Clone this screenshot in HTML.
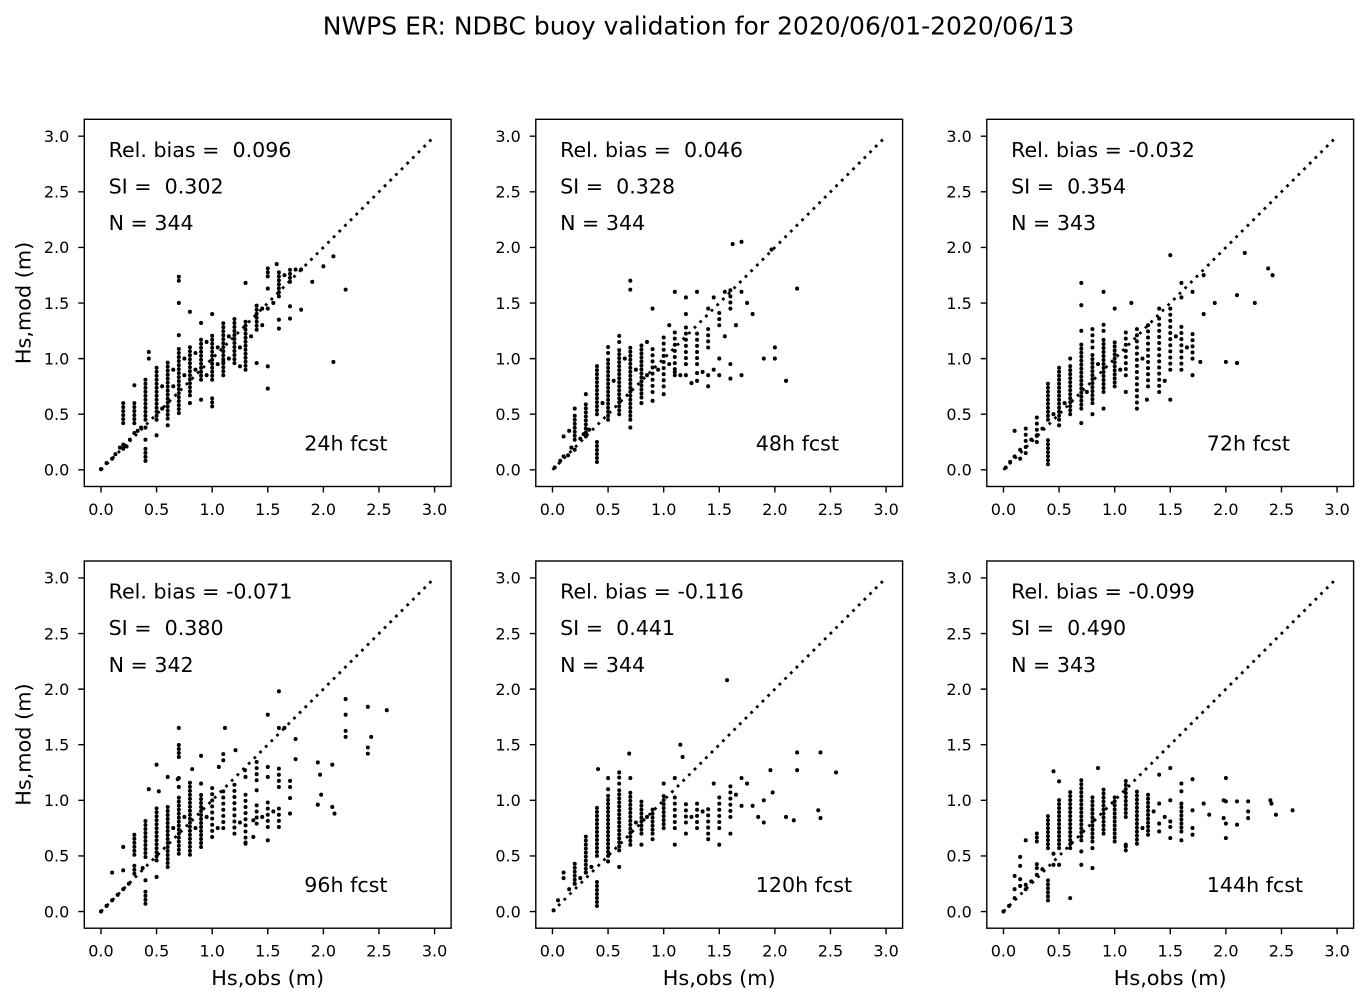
<!DOCTYPE html>
<html>
<head>
<meta charset="utf-8">
<style>
html,body{margin:0;padding:0;background:#fff;}
svg{display:block;}
text{font-family:"DejaVu Sans","Liberation Sans",sans-serif;fill:#000;white-space:pre;}
.tk{font-size:16px;}
.an{font-size:20.6px;}
.lb{font-size:20.8px;}
.ax{fill:none;stroke:#000;stroke-width:1.4;}
.tm{stroke:#000;stroke-width:1.4;}
.col{fill:none;stroke:#000;stroke-width:0.036;stroke-linecap:round;stroke-dasharray:0 0.036;}
.cs{fill:none;stroke:#000;stroke-width:0.036;stroke-linecap:round;stroke-dasharray:0 0.055;}
.pt{fill:none;stroke:#000;stroke-width:0.036;stroke-linecap:round;}
.dg{fill:none;stroke:#000;stroke-width:0.025;stroke-dasharray:0.025 0.047;}
</style>
</head>
<body>
<svg width="1372" height="1004" viewBox="0 0 1372 1004" xmlns="http://www.w3.org/2000/svg">
<defs>
<g id="frame">
  <rect class="ax" x="0" y="0" width="366.8" height="367.2"/>
  <path class="tm" d="M16.68 367.2v6M72.28 367.2v6M127.88 367.2v6M183.48 367.2v6M239.08 367.2v6M294.68 367.2v6M350.28 367.2v6M0 350.52h-6M0 294.92h-6M0 239.32h-6M0 183.72h-6M0 128.12h-6M0 72.52h-6M0 16.92h-6"/>
  <g class="tk" text-anchor="middle">
    <text x="16.68" y="395.7">0.0</text><text x="72.28" y="395.7">0.5</text><text x="127.88" y="395.7">1.0</text><text x="183.48" y="395.7">1.5</text><text x="239.08" y="395.7">2.0</text><text x="294.68" y="395.7">2.5</text><text x="350.28" y="395.7">3.0</text>
  </g>
  <g class="tk" text-anchor="end">
    <text x="-15" y="356.32">0.0</text><text x="-15" y="300.72">0.5</text><text x="-15" y="245.12">1.0</text><text x="-15" y="189.52">1.5</text><text x="-15" y="133.92">2.0</text><text x="-15" y="78.32">2.5</text><text x="-15" y="22.72">3.0</text>
  </g>
  <g transform="translate(16.68,350.52) scale(111.2,-111.2)">
    <path class="dg" d="M0 0L3 3"/>
  </g>
</g>
</defs>

<text x="698.5" y="34.5" text-anchor="middle" style="font-size:25px">NWPS ER: NDBC buoy validation for 2020/06/01-2020/06/13</text>

<!-- Panel 1 -->
<g transform="translate(84.3,119.3)">
  <use href="#frame"/>
  <g transform="translate(16.68,350.52) scale(111.2,-111.2)">
    <path class="col" d="M0.2 0.42V0.6M0.2 0.19V0.25M0.3 0.42V0.62M0.3 0.76V0.79M0.4 0.45V0.84M0.4 0.08V0.2M0.5 0.45V0.94M0.6 0.46V0.98M0.7 0.51V1.09M0.7 1.7V1.75M0.8 0.67V1.12M0.9 0.81V1.2M1 0.81V1.24M1 0.57V0.66M1.1 0.85V1.35M1.2 0.96V1.38M1.3 0.9V1.35M1.4 1.26V1.5M1.5 1.74V1.84M1.6 1.56V1.8M1.7 1.69V1.81"/>
    <path class="pt" d="M0 0.005v.001M0.05 0.06v.001M0.1 0.1v.001M0.13 0.14v.001M0.17 0.2v.001M0.21 0.22v.001M0.23 0.21v.001M0.26 0.27v.001M0.3 0.33v.001M0.33 0.35v.001M0.36 0.38v.001M0.4 0.27v.001M0.4 0.38v.001M0.43 1.06v.001M0.43 1v.001M0.5 0.31v.001M0.55 0.75v.001M0.55 0.55v.001M0.65 0.75v.001M0.65 0.9v.001M0.7 1.5v.001M0.7 1.21v.001M0.75 1v.001M0.75 0.85v.001M0.8 1.42v.001M0.85 0.9v.001M0.85 1.05v.001M0.9 1.32v.001M0.9 0.63v.001M0.95 0.85v.001M0.95 1.15v.001M1.05 1.1v.001M1.05 0.95v.001M1.15 1v.001M1.15 1.2v.001M1.25 0.93v.001M1.25 1.1v.001M1.3 1.68v.001M1.35 1.2v.001M1.4 0.96v.001M1.45 1.45v.001M1.5 1.63v.001M1.5 0.93v.001M1.5 0.73v.001M1.55 1.5v.001M1.6 1.35v.001M1.6 1.27v.001M1.58 1.85v.001M1.65 1.75v.001M1.7 1.47v.001M1.7 1.36v.001M1.75 1.8v.001M1.8 1.44v.001M1.8 1.8v.001M1.9 1.69v.001M2 1.83v.001M2.09 1.92v.001M2.09 0.97v.001M2.2 1.62v.001M1.1 0.97v.001M1 1.4v.001M0.6 0.4v.001M0.8 0.6v.001M1.5 1.45v.001M1.45 1.3v.001"/>
  </g>
  <g class="an">
    <text x="24.3" y="37.5">Rel. bias =  0.096</text>
    <text x="24.3" y="74.2">SI =  0.302</text>
    <text x="24.3" y="110.9">N = 344</text>
    <text x="220" y="331">24h fcst</text>
  </g>
  <text class="lb" text-anchor="middle" transform="translate(-53.8,183.6) rotate(-90)">Hs,mod (m)</text>
</g>

<!-- Panel 2 -->
<g transform="translate(535.8,119.3)">
  <use href="#frame"/>
  <g transform="translate(16.68,350.52) scale(111.2,-111.2)">
    <path class="col" d="M0.2 0.27V0.5M0.3 0.3V0.6M0.4 0.07V0.28M0.4 0.5V0.95M0.5 0.45V1M0.6 0.5V1.1M0.7 0.45V1.1M0.8 0.65V1.15"/>
    <path class="cs" d="M0.9 0.7V1.1M1 0.75V1.2M1.1 0.85V1.25M1.2 0.95V1.3M1.3 0.95V1.25M1.4 1.1V1.3M1.5 1.3V1.45M1.6 1.45V1.65M0.6 1.15V1.25M0.5 1.05V1.12"/>
    <path class="pt" d="M0.02 0.02v.001M0.07 0.08v.001M0.1 0.12v.001M0.14 0.13v.001M0.17 0.2v.001M0.2 0.18v.001M0.25 0.28v.001M0.28 0.32v.001M0.33 0.36v.001M0.1 0.3v.001M0.15 0.35v.001M0.2 0.55v.001M0.3 0.68v.001M0.7 1.62v.001M0.7 1.7v.001M0.7 0.38v.001M0.65 1v.001M0.75 0.9v.001M0.85 0.85v.001M0.95 0.9v.001M1.05 0.95v.001M1.15 0.85v.001M1.1 0.88v.001M1.2 0.85v.001M1.3 0.87v.001M1.4 0.85v.001M1.25 0.78v.001M1.3 0.8v.001M1.35 0.88v.001M1.45 0.9v.001M1.5 0.85v.001M1.55 1.6v.001M1.6 0.95v.001M1.6 0.82v.001M1.55 1.2v.001M1.65 1.3v.001M1.62 2.03v.001M1.7 2.05v.001M1.7 1.6v.001M1.75 1.5v.001M1.8 1.4v.001M1.7 0.85v.001M1.9 1v.001M1.97 1.98v.001M2 1.1v.001M2 1v.001M2.1 0.8v.001M2.2 1.63v.001M1.45 1.55v.001M1.3 1.6v.001M1.2 1.55v.001M1.1 1.6v.001M0.9 1.45v.001M1.05 1.3v.001M0.45 0.6v.001M0.55 0.8v.001M0.85 1.15v.001M1.5 1v.001M1.4 0.75v.001M0.9 0.62v.001M1 0.68v.001M0.8 0.6v.001M1.2 1.4v.001M1.4 1.45v.001"/>
  </g>
  <g class="an">
    <text x="24.3" y="37.5">Rel. bias =  0.046</text>
    <text x="24.3" y="74.2">SI =  0.328</text>
    <text x="24.3" y="110.9">N = 344</text>
    <text x="220" y="331">48h fcst</text>
  </g>
</g>

<!-- Panel 3 -->
<g transform="translate(986.8,119.3)">
  <use href="#frame"/>
  <g transform="translate(16.68,350.52) scale(111.2,-111.2)">
    <path class="col" d="M0.4 0.05V0.3M0.4 0.45V0.8M0.5 0.45V0.95M0.6 0.5V0.95M0.7 0.55V1.15M0.8 0.6V1.05M0.9 0.7V1.2M1 0.75V1.15"/>
    <path class="cs" d="M0.2 0.15V0.4M0.3 0.25V0.5M1.1 0.85V1.25M1.2 0.55V1.3M1.3 0.75V1.35M1.4 0.7V1.4M1.5 0.9V1.45M1.6 0.9V1.3M1.7 1V1.25M0.8 1.1V1.3M0.9 1.25V1.35"/>
    <path class="pt" d="M0.02 0.02v.001M0.06 0.07v.001M0.1 0.12v.001M0.1 0.35v.001M0.15 0.1v.001M0.15 0.18v.001M0.25 0.27v.001M0.3 0.31v.001M0.35 0.37v.001M0.7 1.68v.001M0.7 1.48v.001M0.9 1.6v.001M1 1.45v.001M1.15 1.5v.001M1.5 1.93v.001M1.6 1.68v.001M1.6 1.55v.001M1.7 1.6v.001M1.8 1.75v.001M1.9 1.5v.001M2.17 1.95v.001M2.38 1.81v.001M2.42 1.75v.001M2.1 1.57v.001M2.26 1.5v.001M2 0.97v.001M2.1 0.96v.001M1.77 0.97v.001M1.5 0.63v.001M1.29 0.63v.001M1.8 1.4v.001M1.7 0.85v.001M1.4 1.45v.001M1.45 0.8v.001M1.55 1.2v.001M1.65 1.1v.001M0.55 0.6v.001M0.75 0.7v.001M0.85 0.95v.001M1.05 0.9v.001M1.25 1v.001M0.45 0.5v.001M0.5 0.4v.001M0.6 1v.001M0.7 0.42v.001M0.8 0.5v.001M0.9 0.55v.001M1.1 0.7v.001M0.7 1.25v.001"/>
  </g>
  <g class="an">
    <text x="24.3" y="37.5">Rel. bias = -0.032</text>
    <text x="24.3" y="74.2">SI =  0.354</text>
    <text x="24.3" y="110.9">N = 343</text>
    <text x="220" y="331">72h fcst</text>
  </g>
</g>

<!-- Panel 4 -->
<g transform="translate(84.3,561)">
  <use href="#frame"/>
  <g transform="translate(16.68,350.52) scale(111.2,-111.2)">
    <path class="col" d="M0.3 0.51V0.7M0.3 0.34V0.43M0.4 0.49V0.82M0.4 0.07V0.21M0.5 0.46V0.96M0.6 0.4V0.96M0.7 0.52V1.03M0.7 1.39V1.51M0.8 0.51V1.17M0.9 0.58V1.08"/>
    <path class="cs" d="M1 0.67V1.14M1.1 0.75V1.12M1.1 1.36V1.44M1.2 0.7V1.15M1.3 0.61V1.06M1.4 0.79V0.96M1.4 1.18V1.38M1.5 0.76V1.02M1.6 1.12V1.32M1.6 0.76V0.93M1.7 1.12V1.18M2.2 1.57V1.64M2.4 1.42V1.48"/>
    <path class="pt" d="M0 0v.001M0.05 0.05v.001M0.1 0.1v.001M0.15 0.15v.001M0.2 0.2v.001M0.25 0.25v.001M0.1 0.35v.001M0.2 0.58v.001M0.2 0.37v.001M0.375 0.39v.001M0.4 0.28v.001M0.43 1.1v.001M0.5 1.32v.001M0.52 1.08v.001M0.5 0.31v.001M0.6 1.21v.001M0.69 1.19v.001M0.7 1.65v.001M0.7 1.2v.001M0.7 1.12v.001M0.82 1.28v.001M0.9 1.4v.001M0.9 1.15v.001M1.06 1.3v.001M1.115 1.65v.001M1.21 1.45v.001M1.3 1.21v.001M1.295 1.27v.001M1.37 0.82v.001M1.37 0.67v.001M1.3 0.62v.001M1.4 1.09v.001M1.5 1.77v.001M1.5 1.3v.001M1.5 1.21v.001M1.5 0.64v.001M1.6 1.98v.001M1.6 1.65v.001M1.65 1.65v.001M1.7 1.02v.001M1.7 0.88v.001M1.75 1.55v.001M1.75 1.37v.001M1.95 1.34v.001M1.97 1.23v.001M1.98 1.05v.001M1.95 0.96v.001M2.08 1.32v.001M2.08 0.94v.001M2.1 0.88v.001M2.2 1.91v.001M2.2 1.77v.001M2.4 1.84v.001M2.43 1.57v.001M2.57 1.81v.001M1.45 0.85v.001M1.55 0.9v.001M1.05 0.75v.001M1.25 0.8v.001M0.65 0.75v.001M0.75 0.85v.001M0.85 0.75v.001M0.95 0.85v.001"/>
  </g>
  <g class="an">
    <text x="24.3" y="37.5">Rel. bias = -0.071</text>
    <text x="24.3" y="74.2">SI =  0.380</text>
    <text x="24.3" y="110.9">N = 342</text>
    <text x="220" y="331">96h fcst</text>
  </g>
  <text class="lb" text-anchor="middle" transform="translate(-53.8,183.6) rotate(-90)">Hs,mod (m)</text>
  <text class="lb" text-anchor="middle" x="183.4" y="424">Hs,obs (m)</text>
</g>

<!-- Panel 5 -->
<g transform="translate(535.8,561)">
  <use href="#frame"/>
  <g transform="translate(16.68,350.52) scale(111.2,-111.2)">
    <path class="col" d="M0.2 0.25V0.45M0.3 0.35V0.7M0.4 0.05V0.28M0.4 0.5V0.95M0.5 0.5V1.05M0.6 0.55V1.1M0.7 0.6V1.1M0.8 0.7V1M0.9 0.7V0.95M1 0.75V1.05"/>
    <path class="cs" d="M1.1 0.75V1.05M1.2 0.8V1M1.3 0.75V1M1.4 0.7V0.95M1.5 0.75V1.05M1.6 0.85V1.15M0.6 1.15V1.25M0.5 1.1V1.15"/>
    <path class="pt" d="M0.01 0.01v.001M0.05 0.1v.001M0.1 0.3v.001M0.1 0.35v.001M0.15 0.2v.001M0.2 0.25v.001M0.25 0.3v.001M0.3 0.35v.001M0.35 0.4v.001M0.41 1.28v.001M0.69 1.42v.001M1.15 1.5v.001M1.17 1.39v.001M1.57 2.08v.001M1.96 1.27v.001M1.98 1.07v.001M2.2 1.43v.001M2.2 1.27v.001M2.41 1.43v.001M2.55 1.25v.001M2.39 0.91v.001M2.41 0.84v.001M2.17 0.82v.001M1.7 1.2v.001M1.7 0.95v.001M1.8 0.95v.001M1.85 0.85v.001M1.9 1v.001M1.9 0.8v.001M2.1 0.85v.001M1.65 1.05v.001M1.75 1.15v.001M1.6 0.7v.001M0.5 1.2v.001M0.6 1.25v.001M1.45 1.15v.001M1.35 0.9v.001M1.25 0.85v.001M0.85 0.85v.001M0.75 0.8v.001M0.5 0.45v.001M0.6 0.4v.001M0.7 1.2v.001M0.8 0.6v.001M0.9 0.65v.001M1 1.15v.001M1.1 1.2v.001M1.1 0.6v.001M1.5 0.6v.001M1.4 0.65v.001M1.2 0.7v.001"/>
  </g>
  <g class="an">
    <text x="24.3" y="37.5">Rel. bias = -0.116</text>
    <text x="24.3" y="74.2">SI =  0.441</text>
    <text x="24.3" y="110.9">N = 344</text>
    <text x="220" y="331">120h fcst</text>
  </g>
  <text class="lb" text-anchor="middle" x="183.4" y="424">Hs,obs (m)</text>
</g>

<!-- Panel 6 -->
<g transform="translate(986.8,561)">
  <use href="#frame"/>
  <g transform="translate(16.68,350.52) scale(111.2,-111.2)">
    <path class="col" d="M0.3 0.63V0.73M0.3 0.39V0.45M0.4 0.57V0.88M0.4 0.1V0.28M0.5 0.57V1.03M0.5 1.17V1.2M0.6 0.57V1.09M0.7 0.64V1.18M0.8 0.63V1.03M0.9 0.7V1.12M1 0.63V1.05M1.1 0.85V1.2M1.1 0.55V0.6M1.2 0.61V1.11M1.3 0.69V1.08M1.6 0.72V0.94"/>
    <path class="pt" d="M0 0v.001M0.05 0.05v.001M0.1 0.12v.001M0.1 0.32v.001M0.1 0.2v.001M0.15 0.49v.001M0.15 0.41v.001M0.15 0.29v.001M0.15 0.23v.001M0.2 0.64v.001M0.2 0.24v.001M0.2 0.2v.001M0.25 0.27v.001M0.3 0.33v.001M0.35 0.38v.001M0.45 1.26v.001M0.45 0.52v.001M0.45 0.42v.001M0.5 0.42v.001M0.6 0.12v.001M0.7 0.54v.001M0.7 0.42v.001M0.8 0.57v.001M0.8 0.39v.001M0.85 1.29v.001M1.1 0.6v.001M1.4 1.23v.001M1.4 0.97v.001M1.4 0.79v.001M1.4 0.72v.001M1.5 1.29v.001M1.5 1v.001M1.5 0.81v.001M1.5 0.76v.001M1.5 0.66v.001M1.6 1.15v.001M1.6 1.08v.001M1.6 0.97v.001M1.6 0.64v.001M1.7 0.91v.001M1.7 0.75v.001M1.7 0.69v.001M1.7 1.19v.001M1.8 0.97v.001M1.85 0.87v.001M1.98 1v.001M1.98 0.84v.001M2 1.2v.001M2 0.99v.001M2 0.79v.001M2 0.66v.001M2.1 0.99v.001M2.1 0.78v.001M2.2 0.99v.001M2.2 0.9v.001M2.2 0.84v.001M2.4 1v.001M2.41 0.97v.001M2.45 0.87v.001M2.6 0.91v.001M1.35 0.9v.001M1.25 0.75v.001M1.45 0.85v.001"/>
  </g>
  <g class="an">
    <text x="24.3" y="37.5">Rel. bias = -0.099</text>
    <text x="24.3" y="74.2">SI =  0.490</text>
    <text x="24.3" y="110.9">N = 343</text>
    <text x="220" y="331">144h fcst</text>
  </g>
  <text class="lb" text-anchor="middle" x="183.4" y="424">Hs,obs (m)</text>
</g>
</svg>
</body>
</html>
